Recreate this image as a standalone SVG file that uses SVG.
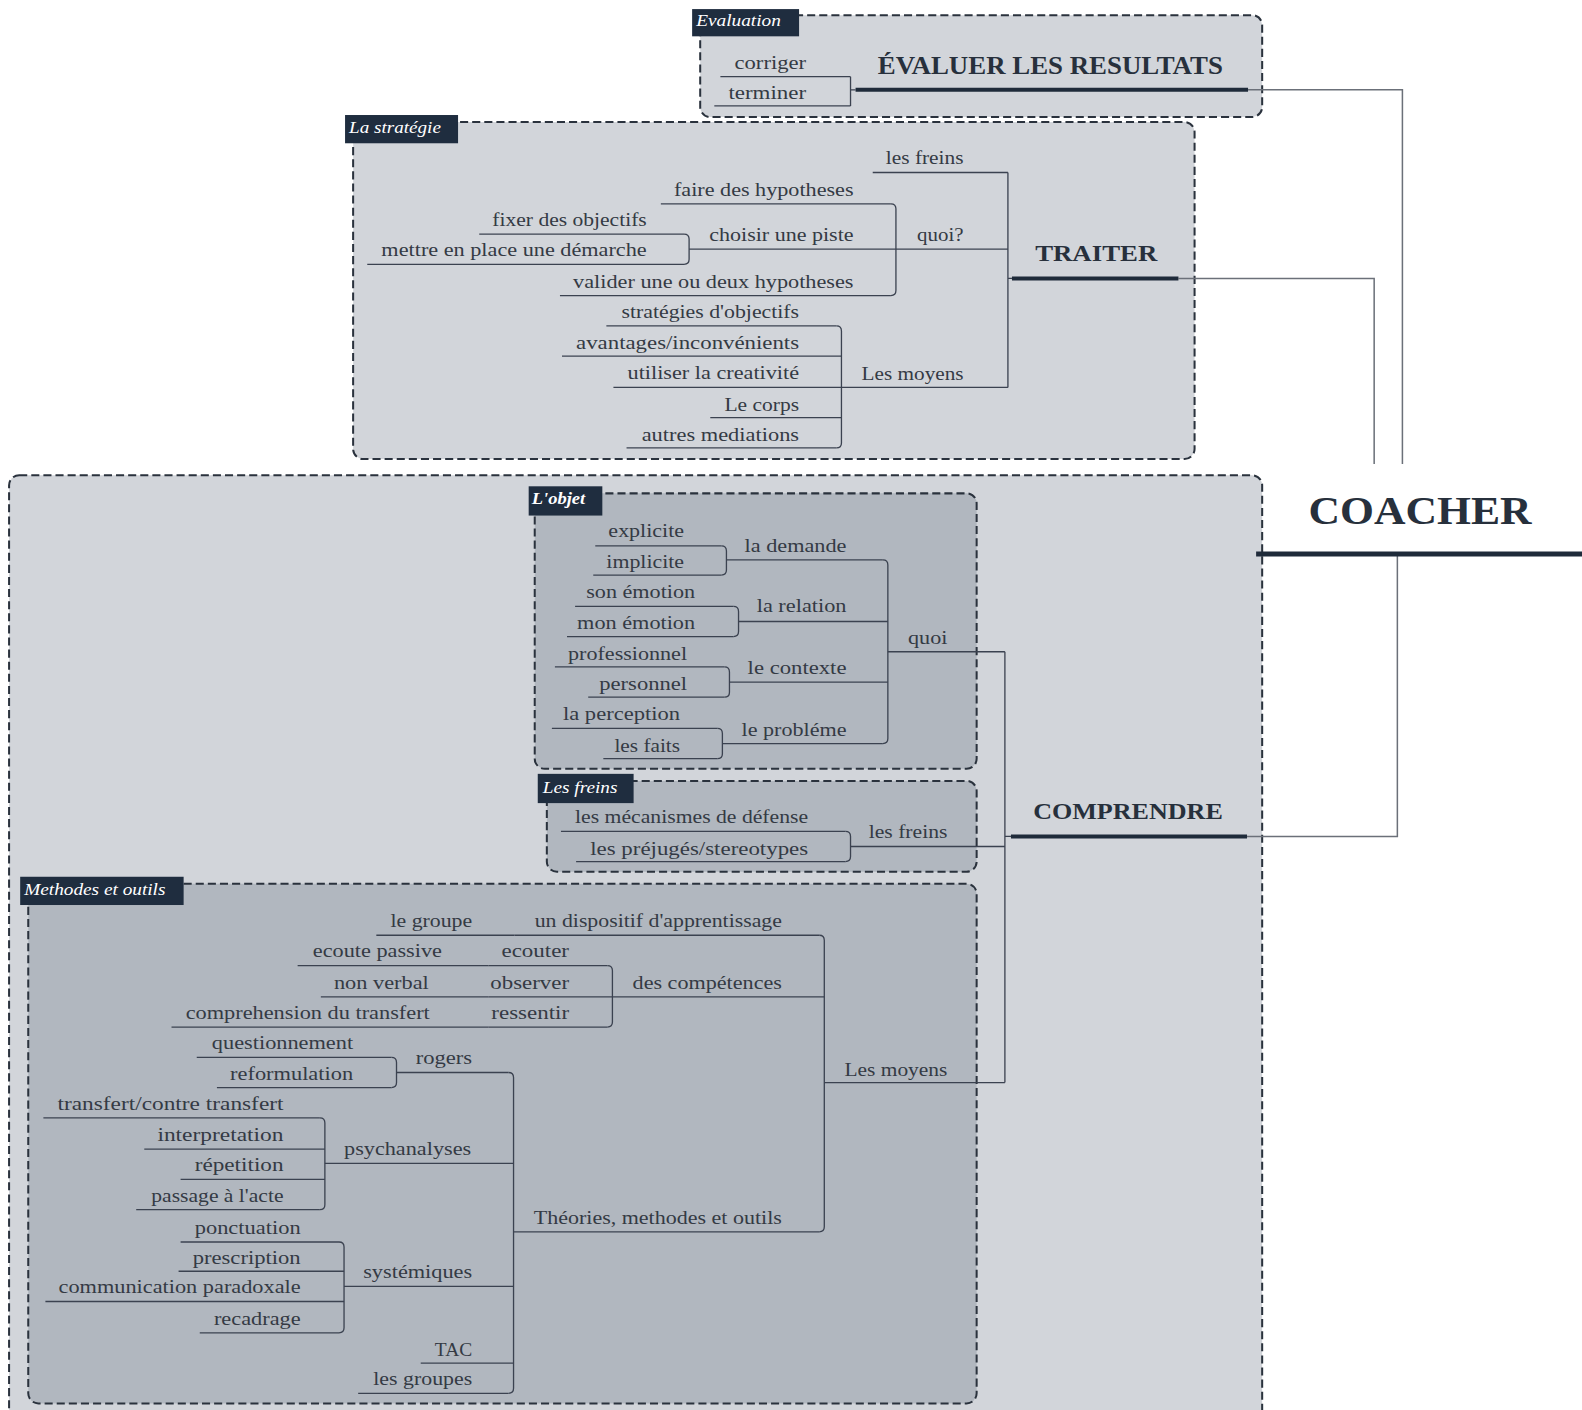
<svg xmlns="http://www.w3.org/2000/svg" width="1582" height="1410" viewBox="0 0 1582 1410">
<style>
.bo{fill:#d2d5da;stroke:#2a323d;stroke-width:2;stroke-dasharray:8 4}
.bi{fill:#b1b7bf;stroke:#2a323d;stroke-width:2;stroke-dasharray:8 4}
.tab{fill:#1f2d3f}
.tt{font-family:"Liberation Serif",serif;font-style:italic;font-size:16px;fill:#ffffff}
.t{font-family:"Liberation Serif",serif;font-size:18px;fill:#343a44}
.tw{font-family:"Liberation Serif",serif;font-size:19px;fill:#343a44}
.h{font-family:"Liberation Serif",serif;font-weight:bold;fill:#27303c}
.u{stroke:#3b4250;stroke-width:1.3;fill:none}
.bar{stroke:#1f2b3a;stroke-width:4;fill:none}
.c{stroke:#3b4250;stroke-width:1.3;fill:none}
.cc{stroke:#6b7079;stroke-width:1.5;fill:none}
</style>
<rect width="1582" height="1410" fill="#ffffff"/>
<g transform="scale(1.00893)">
<g id="boxes">
<rect class="bo" x="694" y="15" width="557" height="101" rx="10"/>
<rect class="bo" x="350" y="121" width="834" height="334" rx="10"/>
<rect class="bo" x="9" y="471" width="1242" height="960" rx="10"/>
<rect class="bi" x="530" y="489" width="438" height="273" rx="10"/>
<rect class="bi" x="542" y="774" width="426" height="90" rx="10"/>
<rect class="bi" x="28" y="876" width="940" height="515" rx="10"/>
</g>
<g id="connectors">
<path class="c" d="M843 76V105M843 89H848"/>
<path class="c" d="M999 171V384M999 276H1003"/>
<path class="c" d="M883 202Q888 202 888 207V288Q888 293 883 293"/>
<path class="c" d="M678 232Q683 232 683 237V257Q683 262 678 262"/>
<path class="c" d="M829 323Q834 323 834 328V439Q834 444 829 444"/>
<path class="c" d="M996 646V1073M996 829H1002"/>
<path class="c" d="M875 555Q880 555 880 560V732Q880 737 875 737"/>
<path class="c" d="M715 541Q720 541 720 546V565Q720 570 715 570"/>
<path class="c" d="M727 601Q732 601 732 606V626Q732 631 727 631"/>
<path class="c" d="M718 661Q723 661 723 666V686Q723 691 718 691"/>
<path class="c" d="M711 722Q716 722 716 727V747Q716 752 711 752"/>
<path class="c" d="M838 824Q843 824 843 829V849Q843 854 838 854"/>
<path class="c" d="M812 927Q817 927 817 932V1216Q817 1221 812 1221"/>
<path class="c" d="M602 957Q607 957 607 962V1013Q607 1018 602 1018"/>
<path class="c" d="M504 1063Q509 1063 509 1068V1376Q509 1381 504 1381"/>
<path class="c" d="M388 1048Q393 1048 393 1053V1073Q393 1078 388 1078"/>
<path class="c" d="M317 1108Q322 1108 322 1113V1194Q322 1199 317 1199"/>
<path class="c" d="M336 1231Q341 1231 341 1236V1316Q341 1321 336 1321"/>
<path class="cc" d="M1237 89H1390V460"/>
<path class="cc" d="M1168 276H1362V460"/>
<path class="cc" d="M1236 829H1385V549"/>
</g>
<g id="coacher"><text class="h" x="1297" y="519" font-size="40" textLength="221" lengthAdjust="spacingAndGlyphs">COACHER</text><path class="bar" style="stroke-width:5" d="M1245 549H1570"/></g>
<g id="evaluer"><text class="h" x="870" y="73" font-size="24" textLength="342" lengthAdjust="spacingAndGlyphs">ÉVALUER LES RESULTATS</text><path class="bar" d="M848 89H1237"/></g>
<g id="corriger"><text class="t" x="728" y="68" textLength="71" lengthAdjust="spacingAndGlyphs">corriger</text><path class="u" d="M714 76H843"/></g>
<g id="terminer"><text class="t" x="722" y="98" textLength="77" lengthAdjust="spacingAndGlyphs">terminer</text><path class="u" d="M708 105H843"/></g>
<g id="traiter"><text class="h" x="1026" y="259" font-size="22" textLength="121" lengthAdjust="spacingAndGlyphs">TRAITER</text><path class="bar" d="M1003 276H1168"/></g>
<g id="t-freins"><text class="t" x="878" y="163" textLength="77" lengthAdjust="spacingAndGlyphs">les freins</text><path class="u" d="M865 171H999"/></g>
<g id="t-quoi"><text class="t" x="909" y="239" textLength="46" lengthAdjust="spacingAndGlyphs">quoi?</text><path class="u" d="M888 247H999"/></g>
<g id="faire-hyp"><text class="t" x="668" y="194" textLength="178" lengthAdjust="spacingAndGlyphs">faire des hypotheses</text><path class="u" d="M655 202H883"/></g>
<g id="choisir"><text class="t" x="703" y="239" textLength="143" lengthAdjust="spacingAndGlyphs">choisir une piste</text><path class="u" d="M683 247H888"/></g>
<g id="valider"><text class="t" x="568" y="285" textLength="278" lengthAdjust="spacingAndGlyphs">valider une ou deux hypotheses</text><path class="u" d="M555 293H883"/></g>
<g id="fixer"><text class="t" x="488" y="224" textLength="153" lengthAdjust="spacingAndGlyphs">fixer des objectifs</text><path class="u" d="M475 232H678"/></g>
<g id="mettre"><text class="t" x="378" y="254" textLength="263" lengthAdjust="spacingAndGlyphs">mettre en place une démarche</text><path class="u" d="M364 262H678"/></g>
<g id="t-moyens"><text class="t" x="854" y="377" textLength="101" lengthAdjust="spacingAndGlyphs">Les moyens</text><path class="u" d="M834 384H999"/></g>
<g id="strat-obj"><text class="t" x="616" y="315" textLength="176" lengthAdjust="spacingAndGlyphs">stratégies d'objectifs</text><path class="u" d="M601 323H829"/></g>
<g id="avantages"><text class="t" x="571" y="346" textLength="221" lengthAdjust="spacingAndGlyphs">avantages/inconvénients</text><path class="u" d="M557 353H834"/></g>
<g id="creativite"><text class="t" x="622" y="376" textLength="170" lengthAdjust="spacingAndGlyphs">utiliser la creativité</text><path class="u" d="M608 384H834"/></g>
<g id="corps"><text class="t" x="718" y="407" textLength="74" lengthAdjust="spacingAndGlyphs">Le corps</text><path class="u" d="M704 414H834"/></g>
<g id="mediations"><text class="t" x="636" y="437" textLength="156" lengthAdjust="spacingAndGlyphs">autres mediations</text><path class="u" d="M621 444H829"/></g>
<g id="comprendre"><text class="h" x="1024" y="812" font-size="22" textLength="188" lengthAdjust="spacingAndGlyphs">COMPRENDRE</text><path class="bar" d="M1002 829H1236"/></g>
<g id="o-quoi"><text class="tw" x="900" y="638" textLength="39" lengthAdjust="spacingAndGlyphs">quoi</text><path class="u" d="M880 646H996"/></g>
<g id="demande"><text class="tw" x="738" y="547" textLength="101" lengthAdjust="spacingAndGlyphs">la demande</text><path class="u" d="M720 555H875"/></g>
<g id="relation"><text class="tw" x="750" y="607" textLength="89" lengthAdjust="spacingAndGlyphs">la relation</text><path class="u" d="M732 616H880"/></g>
<g id="contexte"><text class="tw" x="741" y="668" textLength="98" lengthAdjust="spacingAndGlyphs">le contexte</text><path class="u" d="M723 676H880"/></g>
<g id="probleme"><text class="tw" x="735" y="729" textLength="104" lengthAdjust="spacingAndGlyphs">le probléme</text><path class="u" d="M716 737H875"/></g>
<g id="explicite"><text class="tw" x="603" y="532" textLength="75" lengthAdjust="spacingAndGlyphs">explicite</text><path class="u" d="M590 541H715"/></g>
<g id="implicite"><text class="tw" x="601" y="563" textLength="77" lengthAdjust="spacingAndGlyphs">implicite</text><path class="u" d="M588 570H715"/></g>
<g id="son-emotion"><text class="tw" x="581" y="593" textLength="108" lengthAdjust="spacingAndGlyphs">son émotion</text><path class="u" d="M570 601H727"/></g>
<g id="mon-emotion"><text class="tw" x="572" y="623" textLength="117" lengthAdjust="spacingAndGlyphs">mon émotion</text><path class="u" d="M562 631H727"/></g>
<g id="professionnel"><text class="tw" x="563" y="654" textLength="118" lengthAdjust="spacingAndGlyphs">professionnel</text><path class="u" d="M550 661H718"/></g>
<g id="personnel"><text class="tw" x="594" y="684" textLength="87" lengthAdjust="spacingAndGlyphs">personnel</text><path class="u" d="M583 691H718"/></g>
<g id="perception"><text class="tw" x="558" y="714" textLength="116" lengthAdjust="spacingAndGlyphs">la perception</text><path class="u" d="M547 722H711"/></g>
<g id="faits"><text class="tw" x="609" y="745" textLength="65" lengthAdjust="spacingAndGlyphs">les faits</text><path class="u" d="M598 752H711"/></g>
<g id="c-freins"><text class="tw" x="861" y="831" textLength="78" lengthAdjust="spacingAndGlyphs">les freins</text><path class="u" d="M843 839H996"/></g>
<g id="mecanismes"><text class="tw" x="570" y="816" textLength="231" lengthAdjust="spacingAndGlyphs">les mécanismes de défense</text><path class="u" d="M556 824H838"/></g>
<g id="prejuges"><text class="tw" x="585" y="847" textLength="216" lengthAdjust="spacingAndGlyphs">les préjugés/stereotypes</text><path class="u" d="M571 854H838"/></g>
<g id="m-moyens"><text class="t" x="837" y="1066" textLength="102" lengthAdjust="spacingAndGlyphs">Les moyens</text><path class="u" d="M817 1073H996"/></g>
<g id="dispositif"><text class="t" x="530" y="919" textLength="245" lengthAdjust="spacingAndGlyphs">un dispositif d'apprentissage</text><path class="u" d="M510 927H812"/></g>
<g id="le-groupe"><text class="t" x="387" y="919" textLength="81" lengthAdjust="spacingAndGlyphs">le groupe</text><path class="u" d="M373 927H510"/></g>
<g id="competences"><text class="t" x="627" y="980" textLength="148" lengthAdjust="spacingAndGlyphs">des compétences</text><path class="u" d="M607 988H817"/></g>
<g id="ecouter"><text class="t" x="497" y="949" textLength="67" lengthAdjust="spacingAndGlyphs">ecouter</text><path class="u" d="M484 957H602"/></g>
<g id="ecoute-passive"><text class="t" x="310" y="949" textLength="128" lengthAdjust="spacingAndGlyphs">ecoute passive</text><path class="u" d="M295 957H484"/></g>
<g id="observer"><text class="t" x="486" y="980" textLength="78" lengthAdjust="spacingAndGlyphs">observer</text><path class="u" d="M484 988H607"/></g>
<g id="non-verbal"><text class="t" x="331" y="980" textLength="94" lengthAdjust="spacingAndGlyphs">non verbal</text><path class="u" d="M318 988H484"/></g>
<g id="ressentir"><text class="t" x="487" y="1010" textLength="77" lengthAdjust="spacingAndGlyphs">ressentir</text><path class="u" d="M484 1018H602"/></g>
<g id="comprehension"><text class="t" x="184" y="1010" textLength="242" lengthAdjust="spacingAndGlyphs">comprehension du transfert</text><path class="u" d="M170 1018H484"/></g>
<g id="theories"><text class="t" x="529" y="1213" textLength="246" lengthAdjust="spacingAndGlyphs">Théories, methodes et outils</text><path class="u" d="M509 1221H812"/></g>
<g id="rogers"><text class="t" x="412" y="1055" textLength="56" lengthAdjust="spacingAndGlyphs">rogers</text><path class="u" d="M393 1063H504"/></g>
<g id="questionnement"><text class="t" x="210" y="1040" textLength="140" lengthAdjust="spacingAndGlyphs">questionnement</text><path class="u" d="M195 1048H388"/></g>
<g id="reformulation"><text class="t" x="228" y="1070" textLength="122" lengthAdjust="spacingAndGlyphs">reformulation</text><path class="u" d="M215 1078H388"/></g>
<g id="psychanalyses"><text class="t" x="341" y="1145" textLength="126" lengthAdjust="spacingAndGlyphs">psychanalyses</text><path class="u" d="M322 1153H509"/></g>
<g id="transfert"><text class="t" x="57" y="1100" textLength="224" lengthAdjust="spacingAndGlyphs">transfert/contre transfert</text><path class="u" d="M43 1108H317"/></g>
<g id="interpretation"><text class="t" x="156" y="1131" textLength="125" lengthAdjust="spacingAndGlyphs">interpretation</text><path class="u" d="M143 1139H322"/></g>
<g id="repetition"><text class="t" x="193" y="1161" textLength="88" lengthAdjust="spacingAndGlyphs">répetition</text><path class="u" d="M179 1169H322"/></g>
<g id="passage"><text class="t" x="150" y="1191" textLength="131" lengthAdjust="spacingAndGlyphs">passage à l'acte</text><path class="u" d="M135 1199H317"/></g>
<g id="systemiques"><text class="t" x="360" y="1267" textLength="108" lengthAdjust="spacingAndGlyphs">systémiques</text><path class="u" d="M341 1275H509"/></g>
<g id="ponctuation"><text class="t" x="193" y="1223" textLength="105" lengthAdjust="spacingAndGlyphs">ponctuation</text><path class="u" d="M179 1231H336"/></g>
<g id="prescription"><text class="t" x="191" y="1253" textLength="107" lengthAdjust="spacingAndGlyphs">prescription</text><path class="u" d="M177 1260H341"/></g>
<g id="communication"><text class="t" x="58" y="1282" textLength="240" lengthAdjust="spacingAndGlyphs">communication paradoxale</text><path class="u" d="M45 1290H341"/></g>
<g id="recadrage"><text class="t" x="212" y="1313" textLength="86" lengthAdjust="spacingAndGlyphs">recadrage</text><path class="u" d="M198 1321H336"/></g>
<g id="tac"><text class="t" x="431" y="1344" textLength="37" lengthAdjust="spacingAndGlyphs">TAC</text><path class="u" d="M417 1351H509"/></g>
<g id="les-groupes"><text class="t" x="370" y="1373" textLength="98" lengthAdjust="spacingAndGlyphs">les groupes</text><path class="u" d="M355 1381H504"/></g>
<g id="tabs">
<rect class="tab" x="686" y="9" width="106" height="27"/><text class="tt" x="690" y="26" textLength="84" lengthAdjust="spacingAndGlyphs">Evaluation</text>
<rect class="tab" x="342" y="114" width="112" height="28"/><text class="tt" x="346" y="132" textLength="91" lengthAdjust="spacingAndGlyphs">La stratégie</text>
<rect class="tab" x="524" y="482" width="73" height="29"/><text class="tt" x="527" y="500" font-weight="bold" textLength="53" lengthAdjust="spacingAndGlyphs">L'objet</text>
<rect class="tab" x="533" y="767" width="95" height="29"/><text class="tt" x="538" y="786" textLength="74" lengthAdjust="spacingAndGlyphs">Les freins</text>
<rect class="tab" x="20" y="869" width="162" height="28"/><text class="tt" x="24" y="887" textLength="140" lengthAdjust="spacingAndGlyphs">Methodes et outils</text>
</g>
</g>
</svg>
